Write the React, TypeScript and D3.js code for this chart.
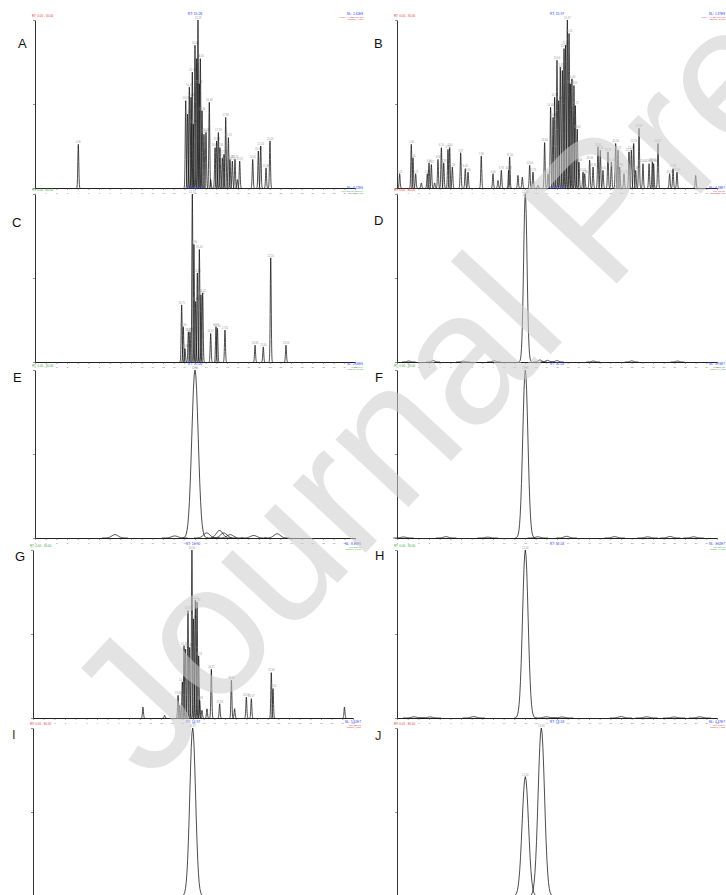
import React, { useEffect, useRef } from 'react';
import * as d3 from 'd3';

// ten chromatograms, retention time (min) vs relative abundance
const panelLetters = ['A', 'B', 'C', 'D', 'E', 'F', 'G', 'H', 'I', 'J'];
const headerColors = ['#e23b3b', '#e23b3b', '#3aa83a', '#e23b3b', '#3aa83a', '#3aa83a', '#3aa83a', '#3aa83a', '#e23b3b', '#e23b3b'];
const headerNL = ['NL: 2.41E8', 'NL: 1.37E8', 'NL: 6.52E6', 'NL: 4.18E7', 'NL: 2.06E6', 'NL: 3.74E7', 'NL: 8.15E6', 'NL: 3.02E7', 'NL: 5.61E7', 'NL: 4.47E7'];
const headerScan = ['TIC F: + c ESI Full ms', 'TIC F: + c ESI Full ms', 'm/z 150.00-1500.00', 'm/z 609.28', 'm/z 271.06', 'm/z 609.28', 'm/z 303.05', 'm/z 609.28', 'm/z 287.05', 'm/z 463.09'];
const headerFile = ['sample_A', 'sample_B', 'sample_C', 'sample_D', 'sample_E', 'sample_F', 'sample_G', 'sample_H', 'sample_I', 'sample_J'];

// [retention time, relative height]
const peaksA = [[4.06, 0.26], [14.13, 0.52], [14.31, 0.44], [14.47, 0.6], [14.63, 0.54], [14.75, 0.69], [14.84, 0.38], [15.0, 0.85], [15.16, 0.77], [15.28, 1.0], [15.41, 0.62], [15.5, 0.77], [15.66, 0.46], [15.84, 0.32], [16.03, 0.33], [16.34, 0.51], [16.47, 0.05], [16.88, 0.24], [17.03, 0.28], [17.19, 0.33], [17.34, 0.24], [17.56, 0.18], [17.72, 0.2], [17.88, 0.42], [18.13, 0.3], [18.28, 0.17], [18.5, 0.16], [18.75, 0.17], [18.97, 0.05], [19.19, 0.16], [20.41, 0.17], [20.94, 0.22], [21.16, 0.25], [21.66, 0.12], [22.03, 0.28]];
const peaksB = [[0.25, 0.085], [1.34, 0.26], [1.5, 0.18], [1.75, 0.085], [2.28, 0.03], [2.84, 0.085], [3.0, 0.15], [3.22, 0.14], [3.53, 0.03], [3.84, 0.17], [4.16, 0.24], [4.38, 0.15], [4.78, 0.23], [4.94, 0.24], [5.19, 0.125], [5.97, 0.21], [6.4, 0.115], [6.66, 0.095], [7.9, 0.19], [9.0, 0.085], [9.47, 0.045], [9.78, 0.105], [10.47, 0.105], [10.56, 0.185], [11.34, 0.075], [11.75, 0.065], [12.44, 0.135], [12.75, 0.095], [13.22, 0.016], [13.84, 0.27], [14.16, 0.085], [14.4, 0.48], [14.63, 0.42], [14.78, 0.54], [15.0, 0.76], [15.16, 0.52], [15.31, 0.72], [15.5, 0.7], [15.66, 0.83], [15.81, 0.85], [15.97, 1.0], [16.13, 0.92], [16.25, 0.62], [16.4, 0.65], [16.59, 0.61], [16.72, 0.49], [16.9, 0.35], [17.06, 0.155], [17.44, 0.095], [17.6, 0.085], [18.06, 0.165], [18.38, 0.125], [18.84, 0.245], [19.06, 0.225], [19.31, 0.105], [19.78, 0.215], [20.1, 0.155], [20.5, 0.265], [20.72, 0.225], [20.88, 0.125], [21.28, 0.085], [21.75, 0.215], [21.97, 0.225], [22.19, 0.265], [22.38, 0.105], [22.69, 0.355], [23.06, 0.145], [23.63, 0.145], [23.94, 0.155], [24.06, 0.145], [24.47, 0.265], [25.56, 0.085], [25.88, 0.115], [26.25, 0.095], [28.0, 0.075]];
const peaksC = [[13.75, 0.34], [13.9, 0.21], [14.06, 0.08], [14.38, 0.18], [14.53, 0.18], [14.75, 1.0], [14.9, 0.7], [15.06, 0.36], [15.22, 0.53], [15.41, 0.67], [15.56, 0.4], [15.72, 0.41], [16.47, 0.17], [16.97, 0.21], [17.1, 0.2], [17.81, 0.19], [20.63, 0.1], [21.4, 0.09], [22.1, 0.62], [23.53, 0.1]];
const peaksD = [[12.03, 1.0], [1.1, 0.006], [3.4, 0.008], [6.2, 0.005], [9.1, 0.007], [13.4, 0.012], [14.1, 0.01], [15.0, 0.008], [18.4, 0.006], [22.0, 0.007], [26.3, 0.006]];
const peaksE = [[15.0, 1.0], [7.5, 0.02], [13.1, 0.012], [16.1, 0.03], [17.3, 0.045], [17.7, 0.03], [18.3, 0.02], [20.5, 0.015], [22.7, 0.025]];
const peaksF = [[12.03, 1.0], [0.6, 0.006], [4.6, 0.008], [8.5, 0.005], [13.2, 0.007], [15.9, 0.01], [20.4, 0.008], [23.5, 0.007], [25.6, 0.009], [27.8, 0.007]];
const peaksG = [[10.31, 0.065], [12.34, 0.016], [13.6, 0.135], [13.75, 0.075], [14.0, 0.215], [14.16, 0.43], [14.31, 0.41], [14.53, 0.64], [14.69, 0.42], [14.9, 1.0], [15.06, 0.59], [15.22, 0.7], [15.38, 0.69], [15.53, 0.37], [15.63, 0.105], [15.84, 0.046], [16.31, 0.055], [16.72, 0.29], [17.5, 0.085], [18.6, 0.225], [18.9, 0.055], [20.0, 0.125], [20.47, 0.115], [22.34, 0.27], [22.5, 0.175], [29.2, 0.065]];
const peaksH = [[12.03, 1.0], [1.6, 0.007], [3.1, 0.006], [7.2, 0.008], [14.0, 0.007], [15.5, 0.006], [21.0, 0.008], [23.4, 0.007], [26.0, 0.006], [28.4, 0.007]];
const peaksI = [[14.97, 1.0]];
const peaksJ = [[12.03, 0.71], [13.53, 1.0]];

const panelPeaks = [peaksA, peaksB, peaksC, peaksD, peaksE, peaksF, peaksG, peaksH, peaksI, peaksJ];
const peakSigma = [0.045, 0.045, 0.045, 0.16, 0.3, 0.24, 0.045, 0.26, 0.27, 0.3];

const rowTops = [20, 194, 370, 550, 728];
const leftX = [35, 35, 35, 33, 33];
const rightX = 397;
const plotW = 320;
const plotH = 168;
const letterPos = [[18, 48], [374, 48], [12, 227], [374, 225], [13, 382], [375, 382], [15, 561], [375, 560], [12, 739], [375, 740]];

export default function App() {
  const ref = useRef(null);

  useEffect(() => {
    const svg = d3.select(ref.current);
    svg.selectAll('*').remove();
    svg.append('rect').attr('width', 726).attr('height', 895).attr('fill', '#fff');

    panelPeaks.forEach((peaks, i) => {
      const row = Math.floor(i / 2);
      const x0 = i % 2 ? rightX : leftX[row];
      const top = rowTops[row];
      const x = d3.scaleLinear().domain([0, 30]).range([x0, x0 + plotW]);
      const y = d3.scaleLinear().domain([0, 1]).range([top + plotH, top]);
      const g = svg.append('g').attr('font-family', 'Liberation Sans, Arial, sans-serif');
      const col = headerColors[i];

      // axes (bottom row runs off the page, so no labels there)
      const xAxis = d3.axisBottom(x).ticks(30).tickSize(2).tickSizeOuter(0);
      if (row === 4) xAxis.tickFormat(() => '');
      const xa = g.append('g').attr('transform', `translate(0,${top + plotH})`).call(xAxis);
      xa.select('.domain').attr('stroke', '#222');
      xa.selectAll('line').attr('stroke', '#444').attr('stroke-width', 0.5);
      xa.selectAll('text').attr('font-size', 2.4).attr('fill', '#777').attr('dy', '0.4em');

      const ya = g.append('g').attr('transform', `translate(${x0},0)`)
        .call(d3.axisLeft(y).tickValues([0, 0.5, 1]).tickSize(2).tickSizeOuter(0).tickFormat(() => ''));
      ya.select('.domain').attr('stroke', '#333');
      ya.selectAll('line').attr('stroke', '#444').attr('stroke-width', 0.6);

      // traces
      const sigma = peakSigma[i];
      const line = d3.line().x(d => x(d[0])).y(d => y(d[1]));
      peaks.forEach(([rt, h]) => {
        const pts = d3.range(-4, 4.01, 0.25).map(k => [rt + k * sigma, h * Math.exp(-k * k / 2)]);
        g.append('path').attr('d', line(pts)).attr('fill', 'none')
          .attr('stroke', '#111').attr('stroke-width', 0.75);
        if (h >= 0.08) {
          g.append('text').attr('x', x(rt)).attr('y', y(h) - 1.2)
            .attr('text-anchor', 'middle').attr('font-size', 2.6).attr('fill', '#999')
            .text(rt.toFixed(2));
        }
      });

      // header texts
      g.append('text').attr('x', x0 - 3).attr('y', top - 3).attr('font-size', 3)
        .attr('fill', col).text('RT: 0.00 - 30.00');
      g.append('text').attr('x', x0 + 160).attr('y', top - 5).attr('text-anchor', 'middle')
        .attr('font-size', 3.4).attr('fill', '#2a3cff').text(`RT: ${d3.greatest(peaks, d => d[1])[0].toFixed(2)}`);
      const right = x0 + 328;
      g.append('text').attr('x', right).attr('y', top - 5).attr('text-anchor', 'end')
        .attr('font-size', 3.2).attr('fill', '#2a3cff').text(headerNL[i]);
      g.append('text').attr('x', right).attr('y', top - 2.5).attr('text-anchor', 'end')
        .attr('font-size', 2.4).attr('fill', col).text(headerScan[i]);
      g.append('text').attr('x', right).attr('y', top - 0.3).attr('text-anchor', 'end')
        .attr('font-size', 2.4).attr('fill', col).text(`${headerFile[i]}.raw`);

      // panel letter
      g.append('text').attr('x', letterPos[i][0]).attr('y', letterPos[i][1])
        .attr('font-size', 13).attr('fill', row === 4 ? '#4a3320' : '#111').text(panelLetters[i]);
    });

    // watermark over the figure
    svg.append('text')
      .attr('transform', 'translate(150,784) rotate(-47)')
      .attr('font-family', 'Liberation Sans, Arial, sans-serif')
      .attr('font-size', 188)
      .attr('fill', 'rgb(205,205,205)')
      .attr('opacity', 0.55)
      .text('Journal Pre-proof');
  }, []);

  return (
    <svg ref={ref} width={726} height={895}
      style={{ position: 'absolute', left: 0, top: 0, display: 'block' }} />
  );
}
